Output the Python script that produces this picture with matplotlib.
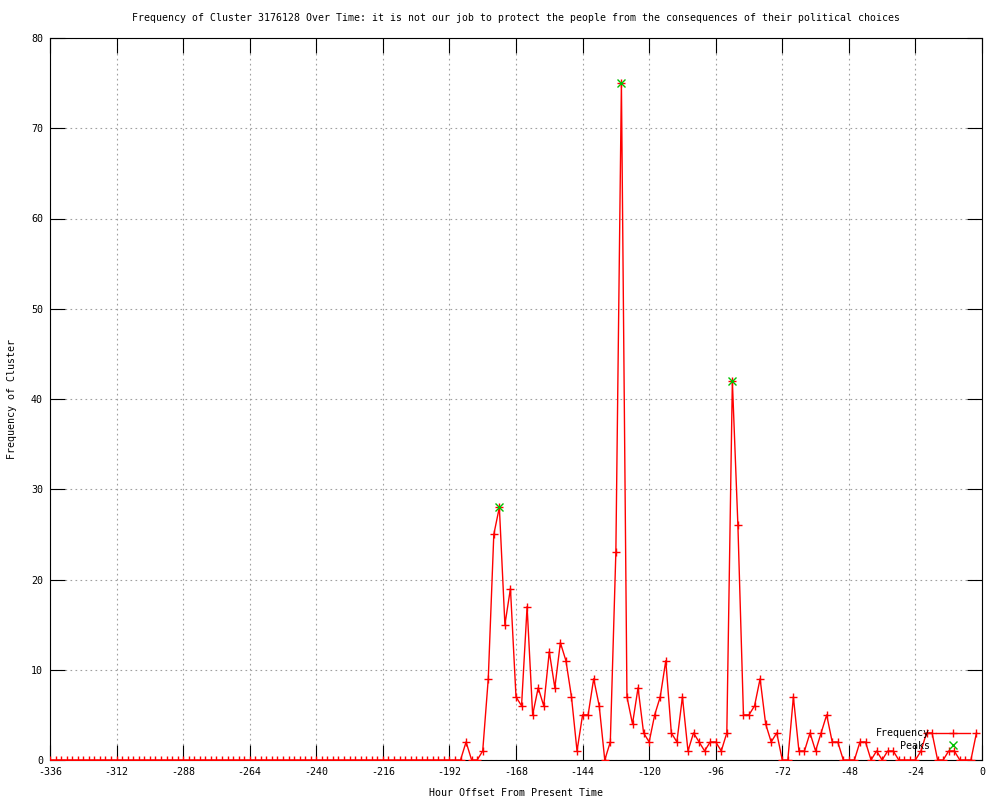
import matplotlib
matplotlib.use("Agg")
import matplotlib.pyplot as plt
from matplotlib.lines import Line2D
import numpy as np

plt.rcParams['font.family'] = ['DejaVu Sans Mono']
plt.rcParams['axes.unicode_minus'] = False

# hourly offsets, one sample every 2 hours
hours = np.arange(-336, 0, 2)

# -336 .. -194 : nothing
freq_old = [
    0, 0, 0, 0, 0, 0, 0, 0, 0, 0, 0, 0,
    0, 0, 0, 0, 0, 0, 0, 0, 0, 0, 0, 0,
    0, 0, 0, 0, 0, 0, 0, 0, 0, 0, 0, 0,
    0, 0, 0, 0, 0, 0, 0, 0, 0, 0, 0, 0,
    0, 0, 0, 0, 0, 0, 0, 0, 0, 0, 0, 0,
    0, 0, 0, 0, 0, 0, 0, 0, 0, 0, 0, 0,
]
# -192 .. -2
freq_recent = [
    0, 0, 0, 2, 0, 0, 1, 9, 25, 28, 15, 19,
    7, 6, 17, 5, 8, 6, 12, 8, 13, 11, 7, 1,
    5, 5, 9, 6, 0, 2, 23, 75, 7, 4, 8, 3,
    2, 5, 7, 11, 3, 2, 7, 1, 3, 2, 1, 2,
    2, 1, 3, 42, 26, 5, 5, 6, 9, 4, 2, 3,
    0, 0, 7, 1, 1, 3, 1, 3, 5, 2, 2, 0,
    0, 0, 2, 2, 0, 1, 0, 1, 1, 0, 0, 0,
    0, 1, 3, 3, 0, 0, 1, 1, 0, 0, 0, 3,
]
freq = freq_old + freq_recent

peak_hours = [-174, -130, -90]
peak_values = [28, 75, 42]

title = ("Frequency of Cluster 3176128 Over Time: it is not our job to protect "
         "the people from the consequences of their political choices")

FS = 7.2

fig = plt.figure(figsize=(10, 8), dpi=100)
ax = fig.add_axes([0.05, 0.05, 0.932, 0.9025])

ax.plot(hours, freq, color='#ff0000', linewidth=1.0, marker='+',
        markersize=6, markeredgewidth=1.0, zorder=3)
ax.plot(peak_hours, peak_values, linestyle='none', marker='x',
        color='#00c000', markersize=5.5, markeredgewidth=1.0, zorder=4)

ax.set_xlim(-336, 0)
ax.set_ylim(0, 80)
ax.set_xticks(np.arange(-336, 1, 24))
ax.set_yticks(np.arange(0, 81, 10))

ax.grid(True, color='#a0a0a0', linestyle=(0, (1.5, 3)), linewidth=0.8)
ax.tick_params(direction='in', length=11, width=0.8, top=True, right=True,
               labelsize=FS, pad=5)
for s in ax.spines.values():
    s.set_linewidth(0.8)

ax.set_title(title, fontsize=7.1, pad=12)
ax.set_xlabel('Hour Offset From Present Time', fontsize=FS, labelpad=8)
ax.set_ylabel('Frequency of Cluster', fontsize=FS, labelpad=10)

# gnuplot style key, bottom right
fig.text(0.930, 1 - 733 / 800, 'Frequency', ha='right', va='center', fontsize=FS)
fig.text(0.930, 1 - 746 / 800, 'Peaks', ha='right', va='center', fontsize=FS)
fig.add_artist(Line2D([0.936, 0.970], [1 - 733 / 800] * 2, color='#ff0000',
                      linewidth=1.0, transform=fig.transFigure))
fig.add_artist(Line2D([0.953], [1 - 733 / 800], color='#ff0000', marker='+',
                      markersize=6, transform=fig.transFigure))
fig.add_artist(Line2D([0.953], [1 - 745 / 800], color='#00c000', marker='x',
                      markersize=5.5, linestyle='none', transform=fig.transFigure))

fig.savefig('out.png', dpi=100)
